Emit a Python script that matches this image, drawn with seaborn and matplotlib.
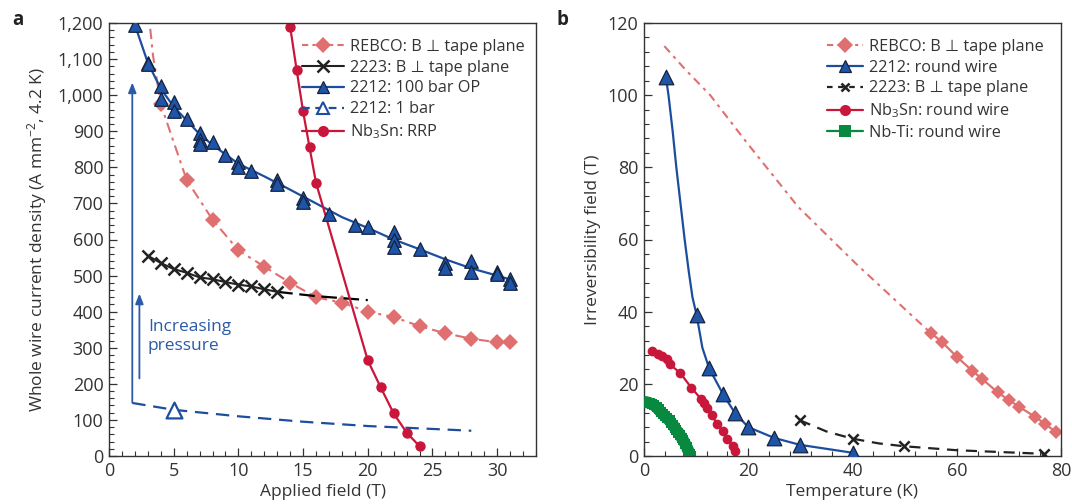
import numpy as np
import pandas as pd
import matplotlib
matplotlib.use("Agg")
import matplotlib.pyplot as plt
from matplotlib.lines import Line2D
from matplotlib.ticker import MultipleLocator, FuncFormatter
import seaborn as sns

# ---------------- Panel a data ----------------
a_rebco_x = [4, 6, 8, 10, 12, 14, 16, 18, 20, 22, 24, 26, 28, 30, 31]
a_rebco_y = [975, 765, 655, 570, 525, 480, 440, 425, 400, 385, 360, 340, 325, 315, 315]
a_rebco_line_x = [3.0, 3.4, 4, 5, 6, 8, 10, 12, 14, 16, 18, 20, 22, 24, 26, 28, 30, 31]
a_rebco_line_y = [1250, 1110, 975, 870, 765, 655, 570, 525, 480, 440, 425, 400, 385, 360, 340, 325, 315, 315]

a_2223_x = [3, 4, 5, 6, 7, 8, 9, 10, 11, 12, 13]
a_2223_y = [555, 535, 518, 508, 495, 490, 482, 475, 470, 462, 455]
a_2223_ext_x = [13, 16, 20]
a_2223_ext_y = [455, 443, 432]

a_2212op_x = [2, 3, 3, 4, 4, 5, 5, 6, 7, 7, 7, 8, 9, 10, 10, 11, 13, 13, 15, 15, 17,
              19, 20, 22, 22, 22, 24, 26, 26, 28, 28, 30, 30, 31, 31]
a_2212op_y = [1195, 1090, 1085, 1025, 990, 980, 955, 935, 895, 875, 865, 870, 835, 815, 800,
              790, 765, 755, 715, 705, 670, 640, 635, 620, 600, 580, 575, 535, 520, 540, 510,
              510, 505, 490, 480]
a_2212fit_x = [2, 3, 4, 5, 6, 7, 8, 10, 12, 14, 16, 18, 20, 22, 24, 26, 28, 30, 31.2]
a_2212fit_y = [1195, 1090, 1018, 968, 930, 892, 862, 810, 775, 738, 700, 662, 632, 600,
               573, 545, 520, 500, 487]

a_2212_1bar_x = [1.8, 5, 10, 15, 20, 25, 28]
a_2212_1bar_y = [147, 128, 110, 95, 83, 75, 70]
a_2212_1bar_pt_x = [5]
a_2212_1bar_pt_y = [128]

a_nb3sn_x = [14, 14.5, 15, 15.5, 16, 20, 21, 22, 23, 24]
a_nb3sn_y = [1190, 1070, 955, 855, 757, 265, 190, 118, 65, 27]

# ---------------- Panel b data ----------------
b_rebco_dash_x = [3.9, 8, 12.7, 19.8, 29.6, 40.6, 51.7, 55.1]
b_rebco_dash_y = [113.6, 107, 100, 86.7, 69, 53.4, 38.5, 34]
b_rebco_x = [55.1, 57.1, 60, 63, 64.9, 67.9, 70, 72, 75.1, 77, 79]
b_rebco_y = [34, 31.7, 27.5, 23.6, 21.3, 17.6, 15.5, 13.6, 10.8, 8.8, 6.7]

b_2212_x = [4.2, 10.1, 12.5, 15.1, 17.4, 20, 25, 29.9, 40]
b_2212_y = [105, 39, 24.3, 17.3, 12, 8, 5, 3.1, 0.9]
b_2212_line_x = [4.2, 4.7, 5.5, 6.2, 7.0, 7.8, 8.6, 9.3, 10.1, 11.2, 12.5, 15.1, 17.4, 20, 25, 29.9, 40]
b_2212_line_y = [105, 100, 90, 80, 70, 60, 51, 44, 39, 30, 24.3, 17.3, 12, 8, 5, 3.1, 0.9]

b_2223_x = [29.9, 40, 49.9, 76.8]
b_2223_y = [9.9, 4.8, 2.7, 0.6]
b_2223_line_x = [29.9, 35, 40, 45, 49.9, 60, 70, 76.8]
b_2223_line_y = [9.9, 6.8, 4.8, 3.5, 2.7, 1.6, 1.0, 0.6]

b_nb3sn_x = [1.5, 2.6, 3.4, 4.4, 5, 7, 9.1, 11, 11.6, 12, 13, 14, 15.1, 15.9, 17, 17.5]
b_nb3sn_y = [29, 28.4, 27.7, 26.8, 25.4, 22.9, 18.9, 15.7, 14.8, 13.4, 11.3, 9, 6.9, 4.8, 2.8, 1.4]

b_nbti_x = [0, 0.4, 0.8, 1.2, 1.6, 2.0, 2.4, 2.8, 3.2, 3.6, 4.0, 4.4, 4.9, 5.2, 5.6, 5.9,
            6.2, 6.6, 6.9, 7.2, 7.5, 7.9, 8.2, 8.5, 8.8, 9.0]
b_nbti_y = [15, 14.95, 14.8, 14.6, 14.4, 14.0, 13.5, 12.9, 12.2, 11.7, 11.1, 10.5, 9.9, 9.2,
            8.5, 7.8, 7.1, 6.5, 5.8, 5.1, 4.4, 3.4, 2.5, 1.5, 0.5, 0.0]

# ---------------- style ----------------
sns.set_theme(style="ticks")
FONT = ["Open Sans", "DejaVu Sans"]
plt.rcParams["font.family"] = FONT
plt.rcParams["mathtext.fontset"] = "custom"
plt.rcParams["mathtext.rm"] = "Open Sans"
plt.rcParams["mathtext.it"] = "Open Sans:italic"
plt.rcParams["axes.linewidth"] = 1.0
plt.rcParams["axes.edgecolor"] = "#333333"

C_REBCO = "#e07070"
C_BLUE = "#1d4e9e"
C_BLUE_FILL = "#1f55a8"
C_BLUE_EDGE = "#14223f"
C_RED = "#c8173a"
C_GREEN = "#078a3f"
C_TEXT = "#333333"
C_ARROW = "#2a5aa8"

fig = plt.figure(figsize=(10.72, 5.04), dpi=100)
axa = fig.add_axes([109 / 1072, 1 - 456 / 504, 427 / 1072, 433 / 504])
axb = fig.add_axes([644 / 1072, 1 - 456 / 504, 417 / 1072, 433 / 504])


def lp(ax, x, y, **kw):
    df = pd.DataFrame({"x": x, "y": y})
    sns.lineplot(data=df, x="x", y="y", ax=ax, sort=False, estimator=None, **kw)


# ---------------- Panel a ----------------
lp(axa, a_rebco_line_x, a_rebco_line_y, color=C_REBCO, linewidth=1.5,
   linestyle=(0, (5, 2.5, 1.5, 2.5)))
lp(axa, a_rebco_x, a_rebco_y, color=C_REBCO, linewidth=0, marker="D", markersize=8,
   markeredgecolor=C_REBCO, markeredgewidth=0)
lp(axa, a_2223_ext_x, a_2223_ext_y, color="black", linewidth=1.6, linestyle=(0, (7, 3)))
lp(axa, a_2223_x, a_2223_y, color="#222222", linewidth=1.5, marker="x", markersize=8,
   markeredgecolor="#222222", markeredgewidth=1.8)
lp(axa, a_2212fit_x, a_2212fit_y, color=C_BLUE, linewidth=1.6)
sns.scatterplot(x=a_2212op_x, y=a_2212op_y, ax=axa, marker="^", s=95,
                color=C_BLUE_FILL, edgecolor=C_BLUE_EDGE, linewidth=0.9, zorder=3)
lp(axa, a_2212_1bar_x, a_2212_1bar_y, color=C_BLUE, linewidth=1.6, linestyle=(0, (6, 3.5)))
sns.scatterplot(x=a_2212_1bar_pt_x, y=a_2212_1bar_pt_y, ax=axa, marker="^", s=130,
                facecolor="white", edgecolor=C_BLUE, linewidth=1.6, zorder=3)
lp(axa, a_nb3sn_x, a_nb3sn_y, color=C_RED, linewidth=1.6, marker="o", markersize=7.5,
   markeredgecolor=C_RED, markeredgewidth=0)

axa.annotate("", xy=(1.8, 1035), xytext=(1.8, 148),
             arrowprops=dict(arrowstyle="-|>,head_length=0.5,head_width=0.2",
                             color=C_ARROW, lw=1.3, shrinkA=0, shrinkB=0))
axa.annotate("", xy=(2.35, 450), xytext=(2.35, 215),
             arrowprops=dict(arrowstyle="-|>,head_length=0.5,head_width=0.2",
                             color=C_ARROW, lw=1.3, shrinkA=0, shrinkB=0))
axa.text(3.0, 330, "Increasing\npressure", color=C_ARROW, fontsize=12.5,
         va="center", ha="left", linespacing=1.25)

axa.set_xlim(0, 33)
axa.set_ylim(0, 1200)
axa.xaxis.set_major_locator(MultipleLocator(5))
axa.xaxis.set_minor_locator(MultipleLocator(1))
axa.yaxis.set_major_locator(MultipleLocator(100))
axa.yaxis.set_minor_locator(MultipleLocator(20))
axa.yaxis.set_major_formatter(FuncFormatter(lambda v, p: f"{int(v):,}"))
axa.set_xlabel("Applied field (T)", fontsize=12.5, color=C_TEXT, labelpad=3)
axa.set_ylabel("Whole wire current density (A mm$^{-2}$, 4.2 K)", fontsize=12.5,
               color=C_TEXT, labelpad=6)

handles_a = [
    Line2D([], [], color=C_REBCO, lw=1.5, linestyle=(0, (3, 2, 1.5, 2)), marker="D",
           markersize=8, markeredgewidth=0),
    Line2D([], [], color="#222222", lw=1.5, marker="x", markersize=8, markeredgewidth=1.8),
    Line2D([], [], color=C_BLUE, lw=1.6, marker="^", markersize=9,
           markerfacecolor=C_BLUE_FILL, markeredgecolor=C_BLUE_EDGE, markeredgewidth=0.9),
    Line2D([], [], color=C_BLUE, lw=1.6, linestyle=(0, (3.5, 2.5)), marker="^", markersize=9,
           markerfacecolor="white", markeredgecolor=C_BLUE, markeredgewidth=1.5),
    Line2D([], [], color=C_RED, lw=1.6, marker="o", markersize=8, markeredgewidth=0),
]
labels_a = ["REBCO: B \u22a5 tape plane", "2223: B \u22a5 tape plane", "2212: 100 bar OP",
            "2212: 1 bar", "Nb$_3$Sn: RRP"]
axa.legend(handles_a, labels_a, loc="upper right", frameon=False, fontsize=11.7,
           handlelength=2.6, handletextpad=0.35, labelspacing=0.3,
           borderaxespad=0.3, bbox_to_anchor=(1.0, 0.99), labelcolor=C_TEXT)

# ---------------- Panel b ----------------
lp(axb, b_rebco_dash_x, b_rebco_dash_y, color=C_REBCO, linewidth=1.5,
   linestyle=(0, (4, 2.5, 1.5, 2.5)))
lp(axb, b_rebco_x, b_rebco_y, color=C_REBCO, linewidth=1.6, marker="D", markersize=7.5,
   markeredgecolor=C_REBCO, markeredgewidth=0)
lp(axb, b_2212_line_x, b_2212_line_y, color=C_BLUE, linewidth=1.6)
sns.scatterplot(x=b_2212_x, y=b_2212_y, ax=axb, marker="^", s=110,
                color=C_BLUE_FILL, edgecolor=C_BLUE_EDGE, linewidth=0.9, zorder=3)
lp(axb, b_2223_line_x, b_2223_line_y, color="#222222", linewidth=1.6, linestyle=(0, (5, 3.5)))
sns.scatterplot(x=b_2223_x, y=b_2223_y, ax=axb, marker="x", s=55, color="#222222",
                linewidth=1.8, zorder=3)
lp(axb, b_nb3sn_x, b_nb3sn_y, color=C_RED, linewidth=1.6, marker="o", markersize=7,
   markeredgecolor=C_RED, markeredgewidth=0)
# Nb-Ti: dense square markers forming a thick band
nbti_band = Line2D(b_nbti_x, b_nbti_y, color=C_GREEN, linewidth=8.5, linestyle="-",
                   solid_capstyle="butt", solid_joinstyle="round", zorder=4)
axb.add_line(nbti_band)
lp(axb, b_nbti_x, b_nbti_y, color=C_GREEN, linewidth=0, marker="s", markersize=7.5,
   markeredgecolor=C_GREEN, markeredgewidth=0)

axb.set_xlim(0, 80)
axb.set_ylim(0, 120)
axb.xaxis.set_major_locator(MultipleLocator(20))
axb.xaxis.set_minor_locator(MultipleLocator(4))
axb.yaxis.set_major_locator(MultipleLocator(20))
axb.yaxis.set_minor_locator(MultipleLocator(4))
axb.set_xlabel("Temperature (K)", fontsize=12.5, color=C_TEXT, labelpad=3)
axb.set_ylabel("Irreversibility field (T)", fontsize=12.5, color=C_TEXT, labelpad=5)

handles_b = [
    Line2D([], [], color=C_REBCO, lw=1.5, linestyle=(0, (3, 2, 1.5, 2)), marker="D",
           markersize=8, markeredgewidth=0),
    Line2D([], [], color=C_BLUE, lw=1.6, marker="^", markersize=9,
           markerfacecolor=C_BLUE_FILL, markeredgecolor=C_BLUE_EDGE, markeredgewidth=0.9),
    Line2D([], [], color="#222222", lw=1.6, linestyle=(0, (2.5, 2.5)), marker="x",
           markersize=6, markeredgewidth=1.8),
    Line2D([], [], color=C_RED, lw=1.6, marker="o", markersize=8, markeredgewidth=0),
    Line2D([], [], color=C_GREEN, lw=1.6, marker="s", markersize=9, markeredgewidth=0),
]
labels_b = ["REBCO: B \u22a5 tape plane", "2212: round wire", "2223: B \u22a5 tape plane",
            "Nb$_3$Sn: round wire", "Nb-Ti: round wire"]
axb.legend(handles_b, labels_b, loc="upper right", frameon=False, fontsize=11.7,
           handlelength=2.2, handletextpad=0.35, labelspacing=0.3,
           borderaxespad=0.3, bbox_to_anchor=(0.985, 0.99), labelcolor=C_TEXT)

for ax in (axa, axb):
    for s in ax.spines.values():
        s.set_visible(True)
        s.set_color("#333333")
        s.set_linewidth(1.0)
    ax.tick_params(which="both", direction="in", top=False, right=False,
                   colors="#333333", labelcolor=C_TEXT)
    ax.tick_params(which="major", length=6, width=0.9, labelsize=13, pad=4)
    ax.tick_params(which="minor", length=3.5, width=0.8)

fig.text(18 / 1072, 1 - 20 / 504, "a", fontsize=13.5, fontweight="bold", va="center",
         ha="center", color="#222222")
fig.text(562 / 1072, 1 - 20 / 504, "b", fontsize=13.5, fontweight="bold", va="center",
         ha="center", color="#222222")

fig.savefig("out.png", dpi=100)
